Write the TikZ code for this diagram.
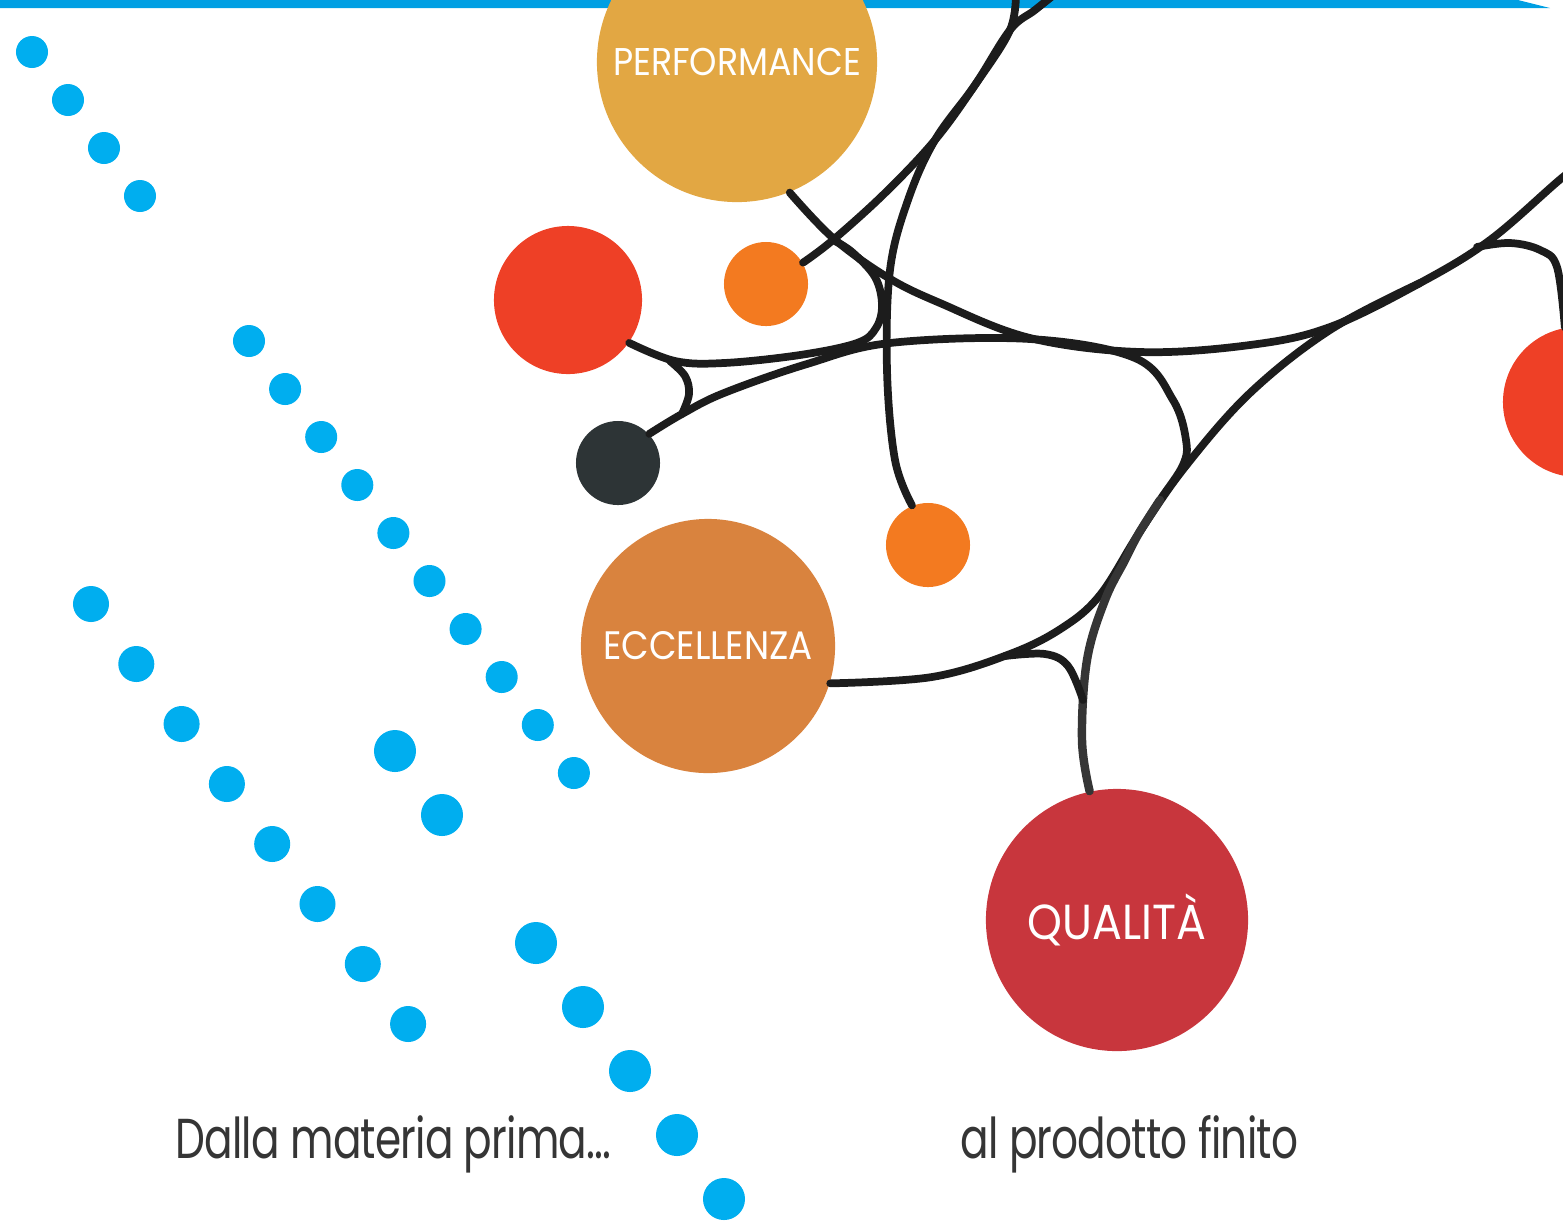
\documentclass[tikz,border=0pt]{standalone}
\usepackage{fontspec}
\newfontfamily\tagfont{Poppins}[FakeStretch=0.9]
\newfontfamily\linefont{Poppins}[FakeStretch=0.75, LetterSpace=-1.5]
\usetikzlibrary{positioning}

\definecolor{barblue}{HTML}{009FE3}
\definecolor{beadblue}{HTML}{00AEEF}
\definecolor{perfcol}{HTML}{E2A743}
\definecolor{redcol}{HTML}{EE4026}
\definecolor{orangecol}{HTML}{F37A20}
\definecolor{darkcol}{HTML}{2D3436}
\definecolor{ecccol}{HTML}{D9833E}
\definecolor{qualcol}{HTML}{C8363D}
\definecolor{wirecol}{HTML}{1C1C1C}
\definecolor{inkcol}{HTML}{353535}

\tikzset{
  blob/.style={circle, fill=#1, inner sep=0pt, text=white},
  bead/.style={circle, fill=beadblue, inner sep=0pt, minimum size=#1},
  wire/.style={draw=wirecol, line width=2.2pt, line cap=round, line join=round},
  tagline/.style={text=inkcol, inner sep=0pt, font=\linefont\fontsize{16}{18}\selectfont},
}

\begin{document}
\begin{tikzpicture}[x=0.01cm, y=-0.01cm]
  \useasboundingbox (0,0) rectangle (1563,1220);
  \clip (0,0) rectangle (1563,1220);

  % band along the top
  \fill[barblue] (0,0) -- (1518,0) -- (1550,8) -- (0,8) -- cycle;

  % blue beads
  \foreach \k in {0,...,3}
    \node[bead=0.32cm] (a\k) at (32+36*\k, 52+48*\k) {};
  \foreach \k in {0,...,9}
    \node[bead=0.32cm] (b\k) at (249+36.1*\k, 341+48*\k) {};
  \foreach \k in {0,...,7}
    \node[bead=0.36cm] (c\k) at (91+45.3*\k, 604+60*\k) {};
  \foreach \k in {0,1,3,4,5,6,7}
    \node[bead=0.42cm] (d\k) at (395+47*\k, 751+64*\k) {};

  % circles
  \node[blob=perfcol, minimum size=2.8cm, font=\tagfont\fontsize{11}{13}\selectfont] (perf) at (737,62) {PERFORMANCE};
  \node[blob=redcol, minimum size=1.48cm] (red) at (568,300) {};
  \node[blob=orangecol, minimum size=0.84cm] (sorg) at (766,284) {};
  \node[blob=darkcol, minimum size=0.84cm] (dark) at (618,463) {};
  \node[blob=orangecol, minimum size=0.84cm] (borg) at (928,545) {};
  \node[blob=ecccol, minimum size=2.54cm, font=\tagfont\fontsize{11.3}{13}\selectfont] (ecc) at (708,646) {ECCELLENZA};
  \node[blob=qualcol, minimum size=2.62cm, font=\tagfont\fontsize{14}{16}\selectfont] (qual) at (1117,920) {QUALITÀ};
  \node[blob=redcol, minimum size=1.5cm] (rred) at (1578,402) {};

  % wires
  \draw[wire] plot[smooth, tension=0.6] coordinates {(perf.-68) (833,238) (887,277) (940,303) (1030,338) (1140,352) (1250,345) (1330,327) (1420,283) (1490,240) (1563,177) (1600,150)};
  \draw[wire] plot[smooth, tension=0.6] coordinates {(sorg.30) (833,240) (885,193) (935,140) (975,85) (1010,30) (1035,10) (1060,-10)};
  \draw[wire] plot[smooth, tension=0.6] coordinates {(borg.112) (895,460) (887,370) (890,270) (908,200) (935,140) (975,85) (1010,30) (1016,-10)};
  \draw[wire] plot[smooth, tension=0.6] coordinates {(red.-35) (675,361) (724,363) (800,355) (857,343) (876,328) (882,305) (875,277) (852,252) (833,240)};
  \draw[wire] plot[smooth, tension=0.6] coordinates {(670,361) (685,376) (689,394) (682,414)};
  \draw[wire] plot[smooth, tension=0.6] coordinates {(dark.43) (682,414) (724,393) (807,364) (890,343) (1030,339) (1135,358) (1173,400) (1186,440) (1183,465) (1160,500) (1139,533)};
  \draw[wire] plot[smooth, tension=0.6] coordinates {(ecc.-17) (932,677) (1010,654) (1062,628) (1100,595) (1139,533) (1185,467) (1250,393) (1330,330) (1420,283)};
  \draw[wire, draw=inkcol, line width=2.4pt] plot[smooth, tension=0.6] coordinates {(qual.102) (1082,740) (1087,660) (1105,600) (1125,560) (1139,533) (1160,500)};
  \draw[wire] plot[smooth, tension=0.6] coordinates {(1005,656) (1045,654) (1068,666) (1083,700)};
  \draw[wire] plot[smooth, tension=0.6] coordinates {(1477,247) (1510,243) (1540,250) (1557,267) (rred.100)};

  % captions
  \node[tagline, anchor=base west] (start) at (175,1158) {Dalla materia prima...};
  \node[tagline, anchor=base west] (finish) at (960,1158) {al prodotto finito};
\end{tikzpicture}
\end{document}
